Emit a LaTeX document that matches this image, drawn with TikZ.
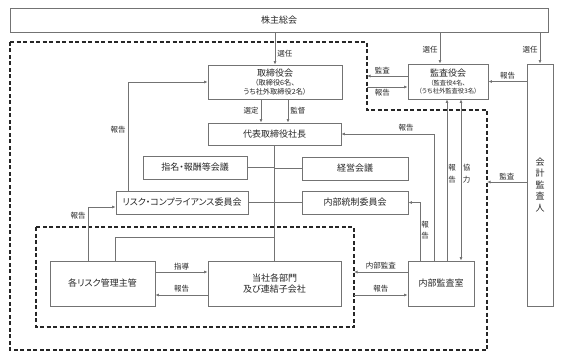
\documentclass[tikz,border=0pt]{standalone}
\usepackage{fontspec}
\setmainfont[RawFeature=+palt]{Noto Sans CJK JP}
\usetikzlibrary{arrows.meta}

\newcommand{\subtxt}{\fontsize{7.2}{10}\selectfont}
\newcommand{\minitxt}{\fontsize{6.3}{9}\selectfont}

\tikzset{
  box/.style={draw=black!55, line width=0.8pt, fill=white, align=center,
    inner sep=1pt, text=black!85, font=\fontsize{9}{10.5}\selectfont},
  lbl/.style={font=\fontsize{7.5}{11.5}\selectfont, text=black!85, inner sep=2pt, align=center},
  arr/.style={-{Latex[length=3.5pt,width=3pt]}, draw=black!55, line width=0.8pt},
  dblarr/.style={{Latex[length=3.5pt,width=3pt]}-{Latex[length=3.5pt,width=3pt]}, draw=black!55, line width=0.8pt},
  ln/.style={draw=black!55, line width=0.8pt},
  frame/.style={draw=black!85, line width=1.1pt, dash pattern=on 4pt off 2.5pt},
}

\begin{document}
\begin{tikzpicture}[x=1pt, y=-1pt]
    \useasboundingbox (0,0) rectangle (567,362);

    % Frames
    \draw[frame] (10,42) -- (367,42) -- (367,110) -- (487,110) -- (487,350) -- (10,350) -- cycle;
    \draw[frame] (36,227) rectangle (354,327);
    \coordinate (fA) at (367,110);
    \coordinate (fB) at (487,350);
    \coordinate (inR) at (354,327);
    \coordinate (jnt) at (274.5,237);

    % Boxes
    \node[box, minimum width=538pt, minimum height=24pt] (soukai) at (279,20) {株主総会};
    \node[box, minimum width=134pt, minimum height=34pt] (torishimari) at (275,82)
        {取締役会\\[-1.5pt]{\subtxt （取締役6名、}\\[-1.5pt]{\subtxt うち社外取締役2名）}};
    \node[box, minimum width=80pt, minimum height=35pt] (kansayaku) at (448,81.5)
        {監査役会\\[-1.5pt]{\minitxt （監査役4名、}\\[-2pt]{\minitxt （うち社外監査役3名）}};
    \node[box, minimum width=26pt, minimum height=242pt, font=\fontsize{9}{11.5}\selectfont] (kaikei) at (540,185)
        {会\\計\\監\\査\\人};
    \node[box, minimum width=133pt, minimum height=22pt] (daihyo) at (274.5,134) {代表取締役社長};
    \node[box, minimum width=104pt, minimum height=23pt] (shimei) at (195,167.5) {指名・報酬等会議};
    \node[box, minimum width=106pt, minimum height=23pt] (keiei) at (355,168.5) {経営会議};
    \node[box, minimum width=132pt, minimum height=23pt] (risk) at (182,202.5) {リスク・コンプライアンス委員会};
    \node[box, minimum width=106pt, minimum height=23pt] (naibu) at (355,202.5) {内部統制委員会};
    \node[box, minimum width=105pt, minimum height=45pt] (kakurisk) at (102.5,283.5) {各リスク管理主管};
    \node[box, minimum width=133pt, minimum height=45pt] (tousha) at (274.5,283.5) {当社各部門\\及び連結子会社};
    \node[box, minimum width=66pt, minimum height=45pt] (kansashitsu) at (441,283.5) {内部監査室};

    % Election
    \draw[arr] (soukai.south -| torishimari.north) -- (torishimari.north) node[lbl, right, pos=0.65] {選任};
    \draw[arr] ([xshift=-8pt]soukai.south -| kansayaku.north) -- ([xshift=-8pt]kansayaku.north) node[lbl, left, pos=0.55] {選任};
    \draw[arr] (soukai.south -| kaikei.north) -- (kaikei.north) node[lbl, left, pos=0.55] {選任};

    % Board and president
    \draw[arr] ([xshift=-14pt]torishimari.south) -- ([xshift=-13.5pt]daihyo.north) node[lbl, left, midway] {選定};
    \draw[arr] ([xshift=13pt]torishimari.south) -- ([xshift=13.5pt]daihyo.north) node[lbl, right, midway] {監督};
    \draw[ln] (daihyo.south) -- (tousha.north);
    \draw[ln] (shimei.east) -- (shimei.east -| daihyo.south);
    \draw[ln] (keiei.west) -- (keiei.west -| daihyo.south);
    \draw[ln] (risk.east) -- (risk.east -| daihyo.south);
    \draw[ln] (naibu.west) -- (naibu.west -| daihyo.south);
    \draw[ln] ([xshift=12.5pt]kakurisk.north) |- (jnt);

    % Audit board
    \draw[arr] ([yshift=5.5pt]kansayaku.west) -- ([yshift=5.5pt]kansayaku.west -| fA) node[lbl, above, pos=0.62] {監査};
    \draw[arr] ([yshift=-5.5pt]kansayaku.west -| fA) -- ([yshift=-5.5pt]kansayaku.west) node[lbl, below, pos=0.38] {報告};
    \draw[arr] (kaikei.west |- kansayaku.east) -- (kansayaku.east) node[lbl, above, midway] {報告};
    \draw[arr] ([yshift=3pt]kaikei.west) -- ([yshift=3pt]kaikei.west -| fB) node[lbl, above, midway] {監査};

    % Internal audit office
    \draw[arr] ([xshift=-7pt]kansashitsu.north) |- (daihyo.east) node[lbl, above, pos=0.65] {報告};
    \draw[arr] ([xshift=-21pt]kansashitsu.north) |- (naibu.east) node[lbl, right, pos=0.26, inner sep=1pt] {報\\告};
    \draw[arr] ([xshift=6pt]kansashitsu.north) -- ([xshift=-1pt]kansayaku.south) node[lbl, right, pos=0.54, inner sep=1pt] {報\\告};
    \draw[dblarr] ([xshift=20pt]kansashitsu.north) -- ([xshift=13pt]kansayaku.south) node[lbl, right, pos=0.54, inner sep=1.5pt] {協\\力};
    \draw[arr] ([yshift=11.5pt]kansashitsu.west) -- ([yshift=11.5pt]kansashitsu.west -| inR) node[lbl, above, midway] {内部監査};
    \draw[arr] ([yshift=-11.5pt]kansashitsu.west -| inR) -- ([yshift=-11.5pt]kansashitsu.west) node[lbl, above, midway] {報告};

    % Risk management
    \draw[arr] ([yshift=11.5pt]kakurisk.east) -- ([yshift=11.5pt]tousha.west) node[lbl, above, midway] {指導};
    \draw[arr] ([yshift=-11.5pt]tousha.west) -- ([yshift=-11.5pt]kakurisk.east) node[lbl, above, midway] {報告};
    \draw[arr] ([xshift=-14.5pt]kakurisk.north) |- ([yshift=-4.5pt]risk.west) node[lbl, left, pos=0.42] {報告};
    \draw[arr] ([xshift=-54pt]risk.north) |- (torishimari.west) node[lbl, left, pos=0.28] {報告};
\end{tikzpicture}
\end{document}
